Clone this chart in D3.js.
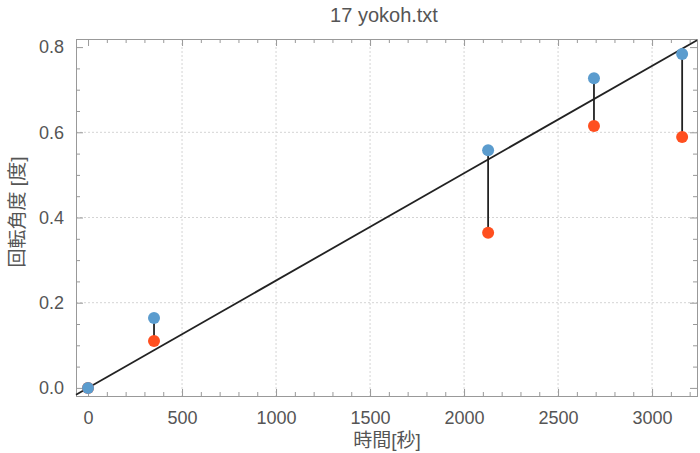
<!DOCTYPE html>
<html>
<head>
<meta charset="utf-8">
<script src="https://cdn.jsdelivr.net/npm/d3@7"></script>
<style>
  body { margin: 0; background: #fff; }
  text { font-family: "Liberation Sans", "Noto Sans CJK JP", sans-serif; fill: #555; }
</style>
</head>
<body>
<svg width="700" height="453"></svg>
<script>
// data
const times = [0, 351, 2128, 2691, 3160];
const measured = [0, 0.164, 0.558, 0.727, 0.784];
const predicted = [0, 0.110, 0.364, 0.615, 0.589];
const fitSlope = 0.000252;
const xTicks = [0, 500, 1000, 1500, 2000, 2500, 3000];
const yTicks = [0.0, 0.2, 0.4, 0.6, 0.8];

const svg = d3.select("svg");
const mLeft = 76, mRight = 697, mTop = 39, mBottom = 396;

const x = d3.scaleLinear().domain([-64, 3239]).range([mLeft, mRight]);
const y = d3.scaleLinear().domain([-0.019, 0.819]).range([mBottom, mTop]);

// title and axis labels
svg.append("text")
  .attr("x", 384).attr("y", 22)
  .attr("text-anchor", "middle")
  .style("font-size", "20px")
  .text("17 yokoh.txt");

svg.append("text")
  .attr("x", 387).attr("y", 447)
  .attr("text-anchor", "middle")
  .style("font-size", "19px")
  .text("時間[秒]");

svg.append("text")
  .attr("transform", "translate(24, 212) rotate(-90)")
  .attr("text-anchor", "middle")
  .style("font-size", "19px")
  .text("回転角度 [度]");

// grid
svg.append("g").selectAll("line")
  .data(xTicks.filter(d => d > 0))
  .enter().append("line")
  .attr("x1", d => x(d)).attr("x2", d => x(d))
  .attr("y1", mTop).attr("y2", mBottom)
  .attr("stroke", "#d4d4d4").attr("stroke-dasharray", "2,2");

svg.append("g").selectAll("line")
  .data(yTicks.filter(d => d > 0 && d < 0.8))
  .enter().append("line")
  .attr("x1", mLeft).attr("x2", mRight)
  .attr("y1", d => y(d)).attr("y2", d => y(d))
  .attr("stroke", "#d4d4d4").attr("stroke-dasharray", "2,2");

// frame axes
const axisStyle = g => {
  g.select(".domain").attr("stroke", "#999");
  g.selectAll(".tick line").attr("stroke", "#999");
  g.selectAll("text").attr("fill", "#555").style("font-size", "18px");
};
const minorX = d3.range(0, 3201, 100).filter(d => d % 500 != 0);
const minorY = d3.range(0, 0.81, 0.05).filter(d => Math.abs(d / 0.2 - Math.round(d / 0.2)) > 0.01);

svg.append("g").attr("transform", `translate(0,${mBottom})`)
  .call(d3.axisBottom(x).tickValues(xTicks).tickSize(-7).tickPadding(15).tickFormat(d3.format("d")))
  .call(axisStyle);
svg.append("g").attr("transform", `translate(0,${mBottom})`)
  .call(d3.axisBottom(x).tickValues(minorX).tickSize(-4).tickFormat(""))
  .call(axisStyle);
svg.append("g").attr("transform", `translate(0,${mTop})`)
  .call(d3.axisTop(x).tickValues(xTicks).tickSize(-7).tickFormat(""))
  .call(axisStyle);
svg.append("g").attr("transform", `translate(0,${mTop})`)
  .call(d3.axisTop(x).tickValues(minorX).tickSize(-4).tickFormat(""))
  .call(axisStyle);
svg.append("g").attr("transform", `translate(${mLeft},0)`)
  .call(d3.axisLeft(y).tickValues(yTicks).tickSize(-7).tickPadding(12).tickFormat(d3.format(".1f")))
  .call(axisStyle);
svg.append("g").attr("transform", `translate(${mLeft},0)`)
  .call(d3.axisLeft(y).tickValues(minorY).tickSize(-4).tickFormat(""))
  .call(axisStyle);
svg.append("g").attr("transform", `translate(${mRight},0)`)
  .call(d3.axisRight(y).tickValues(yTicks).tickSize(-7).tickFormat(""))
  .call(axisStyle);
svg.append("g").attr("transform", `translate(${mRight},0)`)
  .call(d3.axisRight(y).tickValues(minorY).tickSize(-4).tickFormat(""))
  .call(axisStyle);

// fit line
const xDom = x.domain();
svg.append("line")
  .attr("x1", x(xDom[0])).attr("y1", y(fitSlope * xDom[0]))
  .attr("x2", x(xDom[1])).attr("y2", y(fitSlope * xDom[1]))
  .attr("stroke", "#222").attr("stroke-width", 1.8);

// connectors
svg.append("g").selectAll("line")
  .data(times)
  .enter().append("line")
  .attr("x1", d => x(d)).attr("x2", d => x(d))
  .attr("y1", (d, i) => y(measured[i]))
  .attr("y2", (d, i) => y(predicted[i]))
  .attr("stroke", "#222").attr("stroke-width", 1.8);

// points
svg.append("g").selectAll("circle")
  .data(times)
  .enter().append("circle")
  .attr("cx", d => x(d)).attr("cy", (d, i) => y(predicted[i]))
  .attr("r", 6).attr("fill", "#ff4f1f");

svg.append("g").selectAll("circle")
  .data(times)
  .enter().append("circle")
  .attr("cx", d => x(d)).attr("cy", (d, i) => y(measured[i]))
  .attr("r", 6).attr("fill", "#5b9cce");
</script>
</body>
</html>
